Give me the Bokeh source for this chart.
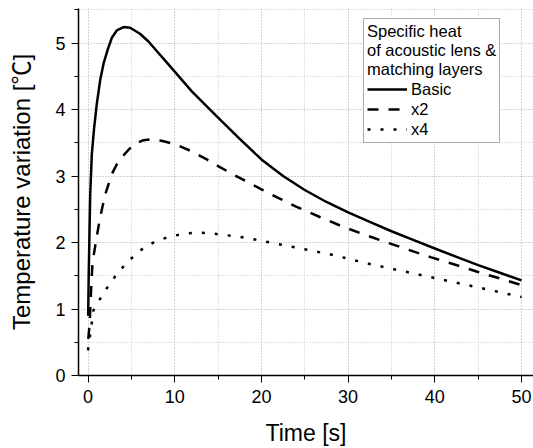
from bokeh.plotting import figure
from bokeh.models import Range1d, Legend, LegendItem, SingleIntervalTicker
from bokeh.embed import file_html
from bokeh.resources import INLINE

# ---- data ----
basic_t = [0.02, 0.08, 0.15, 0.25, 0.44, 0.71, 1.02, 1.4, 1.79, 2.29, 2.75, 3.32, 4.1, 4.86,
           6, 7, 8, 9, 10, 12, 15, 17.5, 20, 22.5, 25, 27.5, 30, 32.5, 35, 37.5, 40, 42.5,
           45, 47.5, 50]
basic_v = [0.9, 1.5, 2.0, 2.7, 3.33, 3.73, 4.09, 4.44, 4.69, 4.91, 5.08, 5.19, 5.24, 5.23,
           5.14, 5.02, 4.87, 4.72, 4.57, 4.27, 3.88, 3.56, 3.25, 3.0, 2.79, 2.61, 2.455, 2.31,
           2.17, 2.04, 1.91, 1.785, 1.66, 1.545, 1.43]

x2_t = [0.03, 0.1, 0.2, 0.37, 0.52, 0.9, 1.35, 2.0, 2.75, 3.3, 3.9, 4.7, 5.5, 6.4, 7.2, 8.5,
        10, 12, 13.7, 15, 16.8, 18.4, 20, 21.8, 24, 26.8, 29, 31.4, 34.5, 37, 39.5, 42,
        44.9, 47.5, 50]
x2_v = [0.55, 0.65, 0.8, 1.33, 1.7, 2.0, 2.35, 2.73, 3.03, 3.17, 3.28, 3.4, 3.49, 3.54, 3.55,
        3.53, 3.48, 3.37, 3.25, 3.15, 3.02, 2.91, 2.8, 2.68, 2.54, 2.38, 2.26, 2.14, 2.0, 1.89,
        1.78, 1.68, 1.56, 1.46, 1.36]

x4_t = [0.0, 0.63, 1.48, 2.5, 3.6, 4.9, 6.5, 8.0, 9.5, 11, 12.6, 14.1, 17.2, 18.7, 23.4,
        28, 32.4, 37, 41.6, 46.2, 50]
x4_v = [0.38, 0.98, 1.17, 1.38, 1.57, 1.75, 1.93, 2.03, 2.09, 2.13, 2.15, 2.14, 2.09, 2.06, 1.94,
        1.82, 1.68, 1.55, 1.42, 1.29, 1.18]

series_labels = ["Basic", "x2", "x4"]
legend_title = "Specific heat\nof acoustic lens &\nmatching layers"
x_label = "Time [s]"
y_label = "Temperature variation [\u2103]"

FONT = "Liberation Sans"

p = figure(width=533, height=448, output_backend="svg", toolbar_location=None,
           x_range=Range1d(-1.096, 51.38), y_range=Range1d(0, 5.52),
           min_border_left=78, min_border_right=0, min_border_top=8, min_border_bottom=73)
p.outline_line_color = None
p.background_fill_color = "white"
p.border_fill_color = "white"

r1 = p.line(basic_t, basic_v, line_color="black", line_width=2.5, line_join="round")
r2 = p.line(x2_t, x2_v, line_color="black", line_width=2.5, line_dash="11 10")
r3 = p.line(x4_t, x4_v, line_color="black", line_width=2.5, line_dash="3 10")

# axes
p.xaxis.ticker = SingleIntervalTicker(interval=10, num_minor_ticks=2)
p.yaxis.ticker = SingleIntervalTicker(interval=1, num_minor_ticks=2)
for ax in (p.xaxis[0], p.yaxis[0]):
    ax.axis_line_color = "black"
    ax.axis_line_width = 1.5
    ax.major_tick_line_color = "black"
    ax.minor_tick_line_color = "black"
    ax.major_tick_in = 0
    ax.major_tick_out = 7
    ax.minor_tick_in = 0
    ax.minor_tick_out = 4
    ax.major_label_text_font = FONT
    ax.major_label_text_font_size = "18px"
    ax.major_label_text_color = "black"
    ax.axis_label_text_font = FONT
    ax.axis_label_text_font_style = "normal"
    ax.axis_label_text_color = "black"
p.xaxis.axis_label_text_font_size = "23px"
p.yaxis.axis_label_text_font_size = "24px"
p.yaxis.axis_label_text_font = "Liberation Sans, Noto Sans CJK JP"
p.xaxis.axis_label = x_label
p.yaxis.axis_label = y_label
p.xaxis.major_label_standoff = 7
p.yaxis.major_label_standoff = 6
p.xaxis.axis_label_standoff = 14
p.yaxis.axis_label_standoff = 17

# grid
for g in (p.xgrid[0], p.ygrid[0]):
    g.grid_line_color = "#c4c4c4"
    g.grid_line_dash = "1 2"
    g.grid_line_width = 1
    g.minor_grid_line_color = "#c4c4c4"
    g.minor_grid_line_dash = "1 2"
    g.minor_grid_line_width = 1

legend = Legend(items=[LegendItem(label=series_labels[0], renderers=[r1]),
                       LegendItem(label=series_labels[1], renderers=[r2]),
                       LegendItem(label=series_labels[2], renderers=[r3])],
                location=(285, 232))
legend.title = legend_title
legend.title_text_font = FONT
legend.title_text_font_size = "16.5px"
legend.title_text_font_style = "normal"
legend.title_text_color = "black"
legend.title_text_line_height = 1.26
legend.title_standoff = 0
legend.label_text_font = FONT
legend.label_text_font_size = "16.5px"
legend.label_text_color = "black"
legend.glyph_width = 40
legend.glyph_height = 20
legend.label_height = 20
legend.label_standoff = 4
legend.spacing = 0
legend.padding = 3
legend.margin = 0
legend.border_line_color = "#555555"
legend.border_line_width = 1
legend.background_fill_color = "white"
legend.background_fill_alpha = 1.0
p.add_layout(legend)

open("out.html", "w").write(file_html(p, INLINE))
